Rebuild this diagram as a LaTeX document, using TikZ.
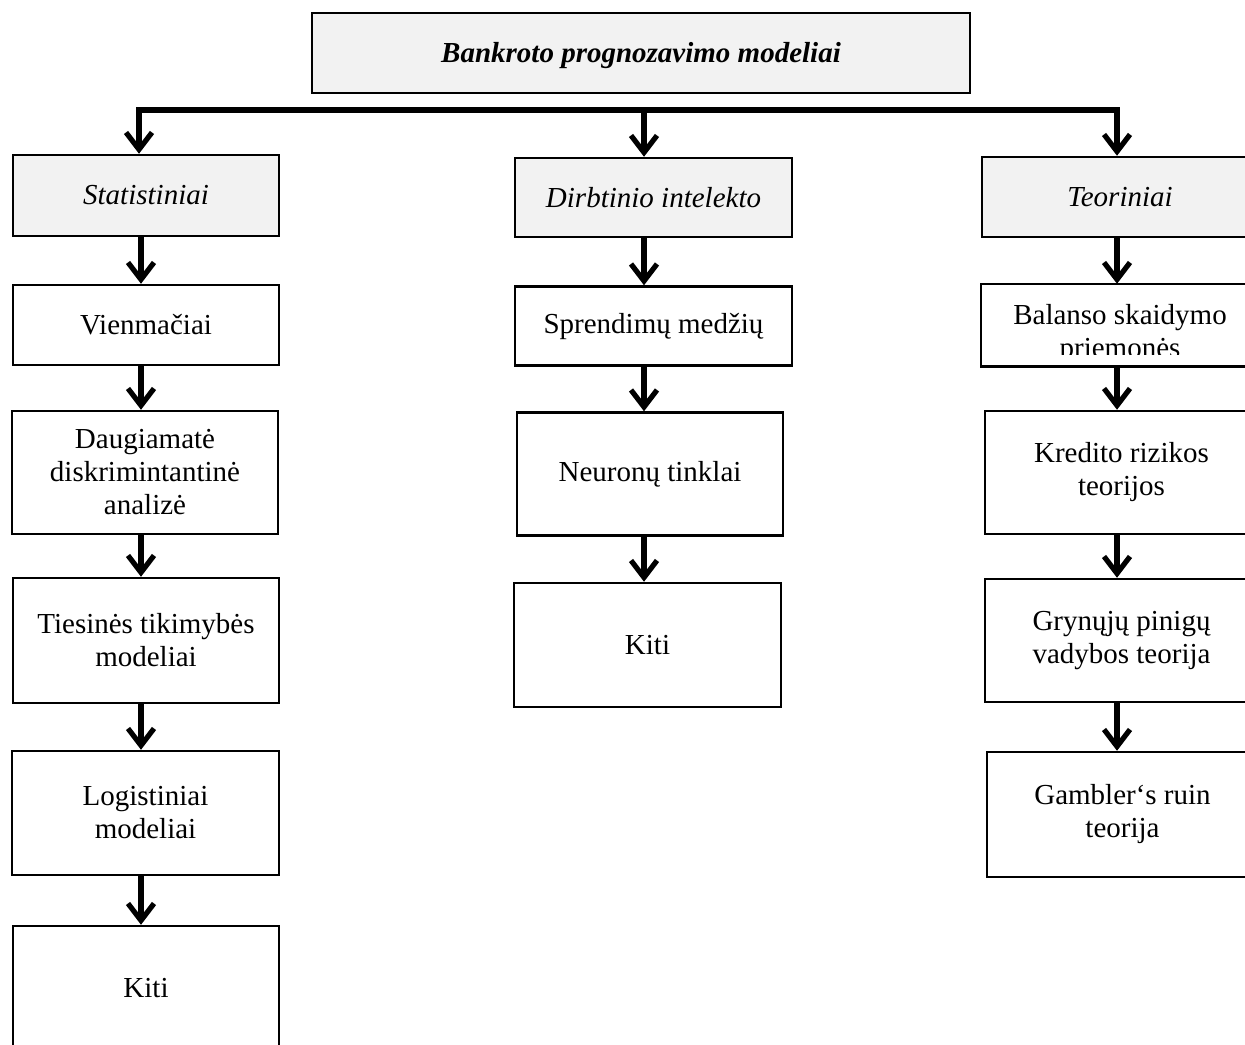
\documentclass[tikz,border=0pt]{standalone}
\usepackage{fontspec}
\setmainfont{Liberation Serif}
\usetikzlibrary{arrows.meta}
\definecolor{headgray}{HTML}{F2F2F2}

\begin{document}
\begin{tikzpicture}[x=0.5pt,y=-0.5pt,
  every node/.style={font=\fontsize{14.5pt}{16.5pt}\selectfont},
  box/.style={draw, line width=1.25pt, fill=white, inner sep=0pt, align=center},
  headbox/.style={box, fill=headgray, font=\fontsize{14.5pt}{16.5pt}\selectfont\itshape},
  tip/.tip={Straight Barb[length=8.5pt,width=13pt]},
  arr/.style={line width=2.6pt, -tip},
  bar/.style={line width=2.6pt, line join=miter}]
\useasboundingbox (0,0) rectangle (1245,1044);

% title
\node[box, fill=headgray, minimum width=329pt, minimum height=40pt] (top) at (641,53) {};
\node[font=\fontsize{14.5pt}{16.5pt}\selectfont\bfseries\itshape] (title) at (641,56) {Bankroto prognozavimo modeliai};

% column heads
\node[headbox, minimum width=133pt, minimum height=40.5pt] (stat) at (146,195.5) {Statistiniai};
\node[headbox, minimum width=138.5pt, minimum height=39.5pt] (dirb) at (653.5,197.5) {Dirbtinio intelekto};
\node[headbox, minimum width=138pt, minimum height=40pt] (teor) at (1120,197) {Teoriniai};

% statistical models
\node[box, minimum width=133pt, minimum height=40pt] (vien) at (146,325) {Vienmačiai};
\node[box, minimum width=133pt, minimum height=61.5pt] (daug) at (145,472.5) {Daugiamatė\\diskrimintantinė\\analizė};
\node[box, minimum width=133pt, minimum height=62.5pt] (ties) at (146,640.5) {Tiesinės tikimybės\\modeliai};
\node[box, minimum width=133.5pt, minimum height=62pt] (logi) at (145.5,813) {Logistiniai\\modeliai};
\node[box, minimum width=133pt, minimum height=62pt] (kitiS) at (146,988) {Kiti};

% artificial intelligence models
\node[box, minimum width=138.5pt, minimum height=39.5pt] (spre) at (653.5,326) {Sprendimų medžių};
\node[box, minimum width=133pt, minimum height=61.5pt] (neur) at (650,474) {Neuronų tinklai};
\node[box, minimum width=133.5pt, minimum height=62pt] (kitiD) at (647.5,645) {Kiti};

% theoretical models; the second line of the first box is cut by its text area
\node[box, draw=none, minimum width=138pt, minimum height=40pt] (bala) at (1120,325) {};
\begin{scope}
  \clip (bala.north west) rectangle (1260,354);
  \node[align=center, inner sep=0pt] (balaText) at (1120,334) {Balanso skaidymo\\priemonės};
\end{scope}
\draw[line width=1.25pt] (bala.south west) rectangle (bala.north east);
\node[box, minimum width=136.5pt, minimum height=61.5pt] (kred) at (1121.5,472.5) {Kredito rizikos\\teorijos};
\node[box, minimum width=136.5pt, minimum height=61.5pt] (gryn) at (1121.5,640.5) {Grynųjų pinigų\\vadybos teorija};
\node[box, minimum width=135.5pt, minimum height=62.5pt] (gamb) at (1122.5,814.5) {Gambler‘s ruin\\teorija};

% distribution bar
\coordinate (barL) at (139,110);
\coordinate (barM) at (644,110);
\coordinate (barR) at (1117,110);
\draw[bar, tip-tip]
  (stat.north -| barL) -- (barL) -- (barR) -- (teor.north -| barR);
\draw[arr] (barM) -- (dirb.north -| barM);

% column axes
\coordinate (colL) at (141,0);
\coordinate (colM) at (644,0);
\coordinate (colR) at (1117,0);

\draw[arr] (stat.south -| colL) -- (vien.north -| colL);
\draw[arr] (vien.south -| colL) -- (daug.north -| colL);
\draw[arr] (daug.south -| colL) -- (ties.north -| colL);
\draw[arr] (ties.south -| colL) -- (logi.north -| colL);
\draw[arr] (logi.south -| colL) -- (kitiS.north -| colL);

\draw[arr] (dirb.south -| colM) -- (spre.north -| colM);
\draw[arr] (spre.south -| colM) -- (neur.north -| colM);
\draw[arr] (neur.south -| colM) -- (kitiD.north -| colM);

\draw[arr] (teor.south -| colR) -- (bala.north -| colR);
\draw[arr] (bala.south -| colR) -- (kred.north -| colR);
\draw[arr] (kred.south -| colR) -- (gryn.north -| colR);
\draw[arr] (gryn.south -| colR) -- (gamb.north -| colR);
\end{tikzpicture}
\end{document}
